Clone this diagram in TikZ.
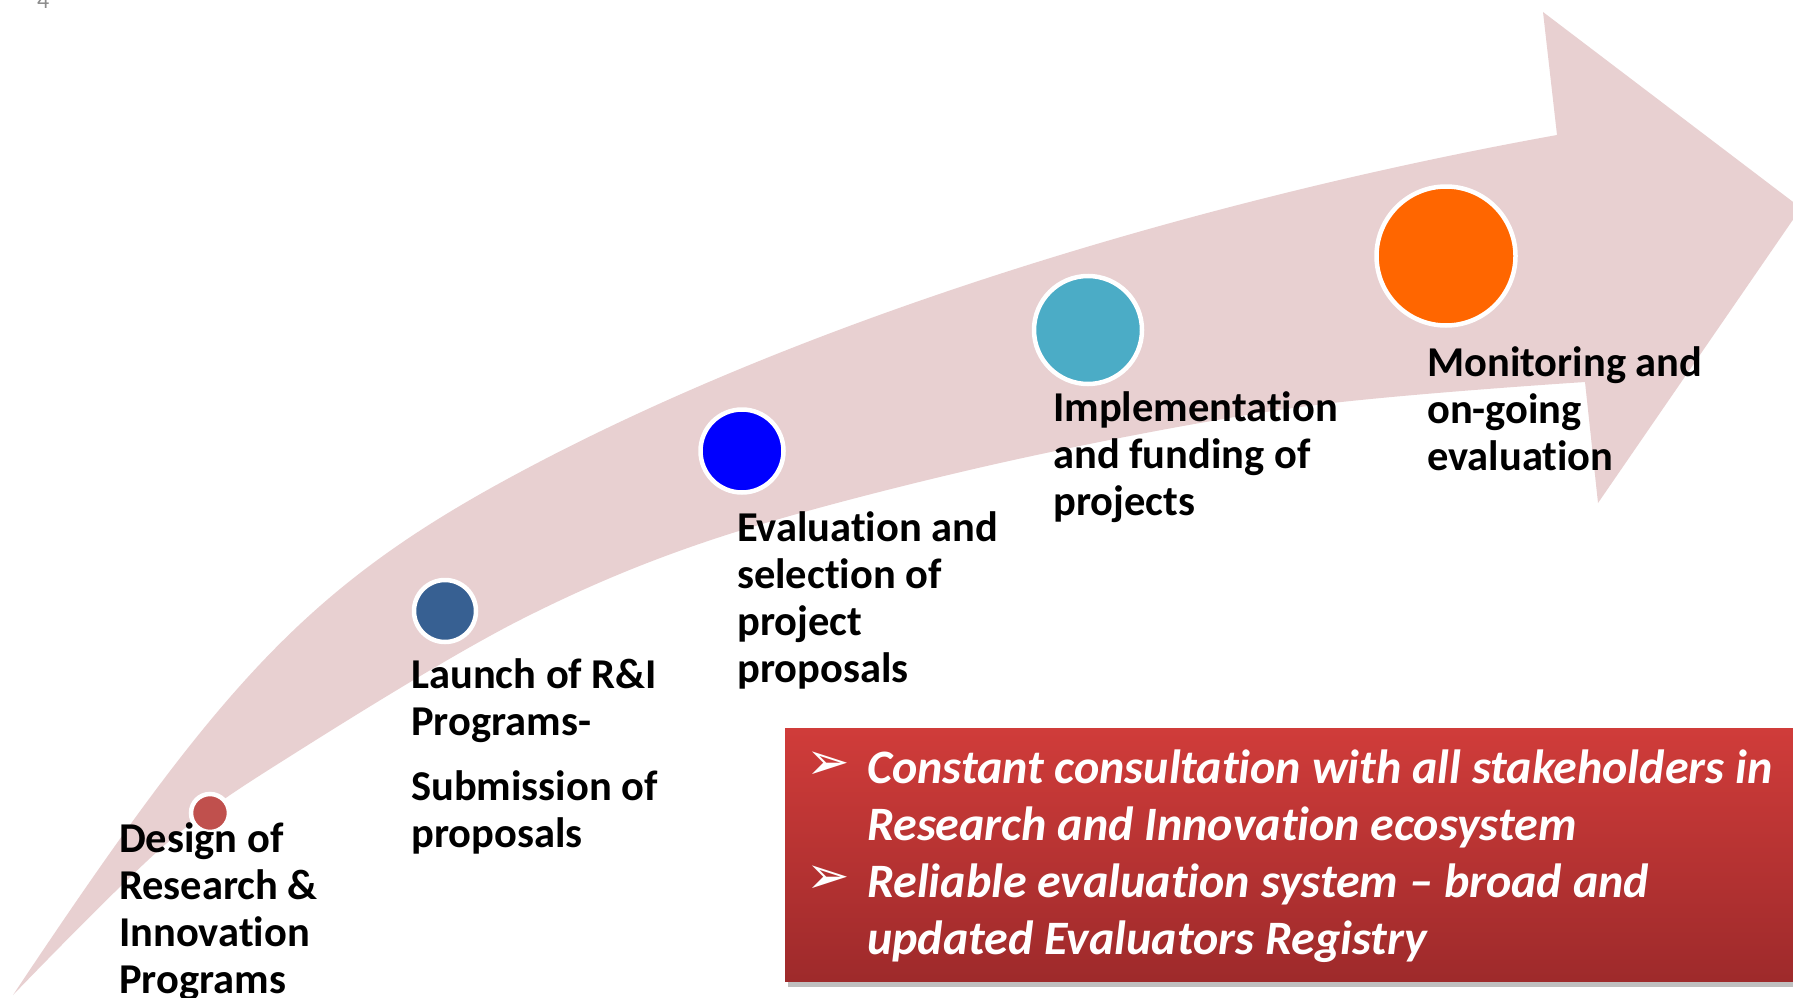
\documentclass[tikz,border=0pt]{standalone}
\usepackage{fontspec}
\setmainfont{Carlito}[Ligatures=NoCommon]
\newfontfamily\dejavu{DejaVu Sans}
\definecolor{arrowpink}{RGB}{232,208,209}
\definecolor{dotred}{RGB}{192,80,77}
\definecolor{dotnavy}{RGB}{55,96,146}
\definecolor{dotblue}{RGB}{0,0,255}
\definecolor{dotteal}{RGB}{75,172,198}
\definecolor{dotorange}{RGB}{255,102,0}
\definecolor{boxtop}{RGB}{208,60,58}
\definecolor{boxbot}{RGB}{158,42,43}
\definecolor{pagegrey}{RGB}{140,140,140}
\tikzset{
  dot/.style={circle, draw=white, line width=4.5pt, inner sep=0pt},
  stagelabel/.style={anchor=base west, align=left, inner sep=0pt,
    font=\fontsize{42.5}{47}\selectfont\bfseries, text=black},
  boxtext/.style={anchor=base west, align=left, inner sep=0pt,
    font=\fontsize{48}{57}\selectfont\bfseries\itshape, text=white},
  bulletmark/.style={anchor=base west, inner sep=0pt,
    font=\fontsize{52}{52}\selectfont\dejavu, text=white},
}
\begin{document}
\begin{tikzpicture}[x=1pt,y=-1pt]
\useasboundingbox (0,0) rectangle (1793,998);
\clip (0,0) rectangle (1793,998);
\fill[white] (0,0) rectangle (1793,998);

% page number
\node[anchor=base west, inner sep=0pt, text=pagegrey, font=\fontsize{24}{24}\selectfont] (pg) at (37,9) {4};

% curved arrow
\fill[arrowpink]
  (13,995) .. controls (213,695) and (300,593) .. (500,483)
  .. controls (800,318) and (1207,198) .. (1557,135)
  -- (1543,12) -- (1801,208) -- (1598,503) -- (1585,382)
  -- plot[smooth, tension=0.55] coordinates {(1585,382) (1300,407) (1000,463) (720,537) (520,620) (300,750) (167,843) (13,995)}
  -- cycle;

% dots
\node[dot, fill=dotred, minimum size=38pt] (c1) at (210,813) {};
\node[dot, fill=dotnavy, minimum size=62pt] (c2) at (445,611) {};
\node[dot, fill=dotblue, minimum size=83pt] (c3) at (742,451) {};
\node[dot, fill=dotteal, minimum size=108pt] (c4) at (1088,330) {};
\node[dot, fill=dotorange, minimum size=139pt] (c5) at (1446,256) {};

% stage labels (anchor = baseline of last line)
\node[stagelabel] (l1) at (119,993) {Design of\\Research \&\\Innovation\\Programs};
\node[stagelabel] (l2) at (411,847) {Launch of R\&I\\Programs-\\[18pt]Submission of\\proposals};
\node[stagelabel] (l3) at (737,682) {Evaluation and\\selection of\\project\\proposals};
\node[stagelabel] (l4) at (1053,515) {Implementation\\and funding of\\projects};
\node[stagelabel] (l5) at (1427,470) {Monitoring and\\on-going\\evaluation};

% red box
\fill[black, opacity=0.25] (788,733) rectangle (1800,987);
\shade[top color=boxtop, bottom color=boxbot] (785,728) rectangle (1800,981);
\node[anchor=north west, inner sep=0pt, minimum width=1015pt, minimum height=253pt] (box) at (785,728) {};
\node[bulletmark] (b1) at (806,779) {➢};
\node[bulletmark] (b2) at (806,893) {➢};
\node[boxtext] (t1) at (867,840) {Constant consultation with all stakeholders in\\Research and Innovation ecosystem};
\node[boxtext] (t2) at (867,954) {Reliable evaluation system – broad and\\updated Evaluators Registry};
\end{tikzpicture}
\end{document}
